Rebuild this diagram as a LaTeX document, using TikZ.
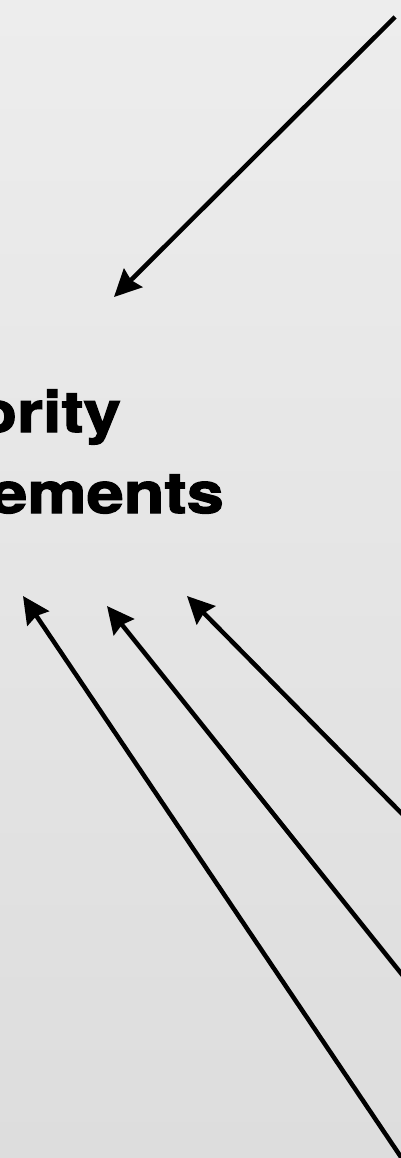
\documentclass[tikz,border=0pt]{standalone}
\usepackage{fontspec}
\newfontfamily\headfont{TeX Gyre Heros}[FakeStretch=1.17,FakeBold=2.2]
\usetikzlibrary{arrows.meta}
\definecolor{bgtop}{RGB}{237,237,237}
\definecolor{bgbot}{RGB}{221,221,221}
\begin{document}
\begin{tikzpicture}[x=1pt,y=-1pt,
  arr/.style={line width=4.5pt, draw=black,
    -{Stealth[length=27pt,width=26pt,inset=3pt]}},
  lbl/.style={font=\headfont\bfseries\fontsize{57}{60}\selectfont,
    inner sep=0pt, anchor=base east, text=black}]
\useasboundingbox (0,0) rectangle (401,1158);
\clip (0,0) rectangle (401,1158);
\shade[top color=bgtop, bottom color=bgbot] (0,0) rectangle (401,1158);
% text (cropped title)
\node[lbl] (l1) at (121,432) {ority};
\node[lbl] (l2) at (224,513) {ements};
% arrow ends
\coordinate (s0) at (395,17);
\coordinate (t0) at (114,297);
\coordinate (sa) at (405,1163);
\coordinate (ta) at (23,596);
\coordinate (sb) at (420,997);
\coordinate (tb) at (107,606);
\coordinate (sc) at (420,832);
\coordinate (tc) at (187,596);
\draw[arr] (s0) -- (t0);
\draw[arr] (sa) -- (ta);
\draw[arr] (sb) -- (tb);
\draw[arr] (sc) -- (tc);
\end{tikzpicture}
\end{document}
